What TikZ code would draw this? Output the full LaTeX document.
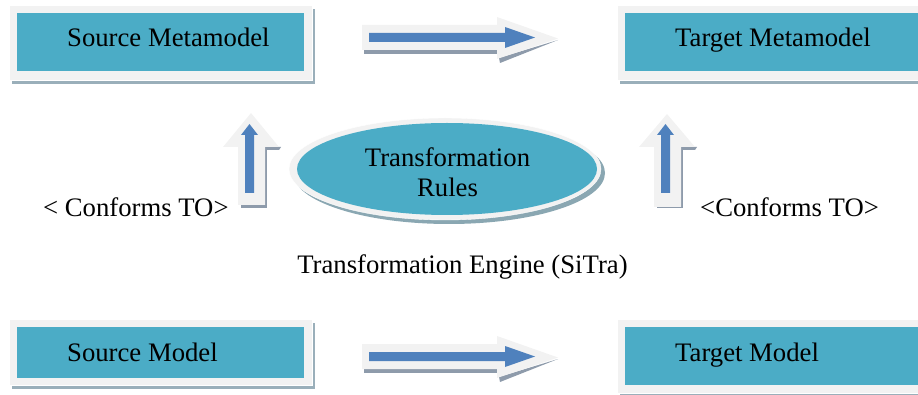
\documentclass[tikz,border=0pt]{standalone}
\usepackage{fontspec}
\setmainfont{Liberation Serif}
\usetikzlibrary{shapes.geometric,shadows}
\definecolor{teal5}{HTML}{4BACC6}
\definecolor{framegray}{HTML}{F2F2F2}
\definecolor{boxshadow}{HTML}{9AAFBA}
\definecolor{arrowblue}{HTML}{4F81BD}
\definecolor{arrowshadow}{HTML}{8E9BAB}
\definecolor{ellshadow}{HTML}{8AA7B2}
\tikzset{
  framebox/.style={fill=framegray, draw=white, line width=0.8pt, inner sep=0pt, anchor=north west,
    drop shadow={shadow xshift=3pt, shadow yshift=-4pt, fill=boxshadow, opacity=1}},
  tealbox/.style={fill=teal5, draw=none, inner sep=0pt, anchor=north west},
  boxtext/.style={anchor=base west, inner sep=0pt, font=\fontsize{26.7}{30}\selectfont},
  plaintext/.style={anchor=base, inner sep=0pt, font=\fontsize{26.7}{30}\selectfont},
  blockframe/.style={fill=framegray},
  blockshadow/.style={fill=arrowshadow},
  blockblue/.style={fill=arrowblue},
}
\begin{document}
\begin{tikzpicture}[x=1pt,y=-1pt]
\useasboundingbox (0,0) rectangle (918,395);
% ---- boxes ----
\node[framebox, minimum width=303pt, minimum height=75pt] (smmf) at (9,5) {};
\node[tealbox, minimum width=287pt, minimum height=58pt] (smm) at (17,13) {};
\node[boxtext] (smmt) at (67,47) {Source Metamodel};

\node[framebox, minimum width=310pt, minimum height=75pt] (tmmf) at (617,5) {};
\node[tealbox, minimum width=300pt, minimum height=58pt] (tmm) at (625,13) {};
\node[boxtext] (tmmt) at (675,47) {Target Metamodel};

\node[framebox, minimum width=303pt, minimum height=66pt] (smf) at (9,319) {};
\node[tealbox, minimum width=287pt, minimum height=51pt] (sm) at (17,327) {};
\node[boxtext] (smt) at (67,361) {Source Model};

\node[framebox, minimum width=310pt, minimum height=74pt] (tmf) at (617,319) {};
\node[tealbox, minimum width=300pt, minimum height=58pt] (tm) at (625,327) {};
\node[boxtext] (tmt) at (675,361) {Target Model};

% ---- horizontal block arrows ----
\foreach \yy in {0,319}{
  \begin{scope}[yshift=-\yy pt]
    \fill[blockshadow] (364,50) -- (497,50) -- (497,54) -- (364,54) -- cycle;
    \fill[blockshadow] (499,58) -- (558,40) -- (500,63) -- cycle;
    \fill[blockframe] (362,25) -- (497,25) -- (497,17) -- (558,38.5) -- (497,59) -- (497,50) -- (362,50) -- cycle;
    \fill[blockblue] (369,33) -- (505,33) -- (505,27) -- (535,37.5) -- (505,48) -- (505,42) -- (369,42) -- cycle;
  \end{scope}
}

% ---- vertical block arrows ----
\foreach \xx/\tip/\bot in {0/113/205, 416/114/207}{
  \begin{scope}[xshift=\xx pt]
    \fill[blockshadow] (241,150) -- (267,150) -- (267,208) -- (241,208) -- cycle;
    \fill[blockshadow] (265,147) -- (281,147) -- (279,150) -- (265,150) -- cycle;
    \fill[blockframe] (251,\tip) -- (279,147) -- (265,147) -- (265,\bot) -- (238,\bot) -- (238,147) -- (223,147) -- cycle;
    \fill[blockblue] (249.5,124) -- (258,135) -- (254,135) -- (254,193) -- (245,193) -- (245,135) -- (241,135) -- cycle;
  \end{scope}
}

% ---- ellipse ----
\node[ellipse, fill=framegray, draw=white, minimum width=312pt, minimum height=102pt, inner sep=0pt,
      drop shadow={shadow xshift=4pt, shadow yshift=-4pt, fill=ellshadow, opacity=1}] (rim) at (445,169) {};
\node[ellipse, fill=teal5, minimum width=300pt, minimum height=92pt, inner sep=0pt] (rules) at (447,169) {};
\node[plaintext, align=center] (rulest) at (447.5,197) {Transformation\\Rules};

% ---- labels ----
\node[boxtext] (cleft) at (43,217) {< Conforms TO>};
\node[boxtext] (cright) at (700,217) {<Conforms TO>};
\node[plaintext] (engine) at (462.5,273) {Transformation Engine (SiTra)};
\end{tikzpicture}
\end{document}
